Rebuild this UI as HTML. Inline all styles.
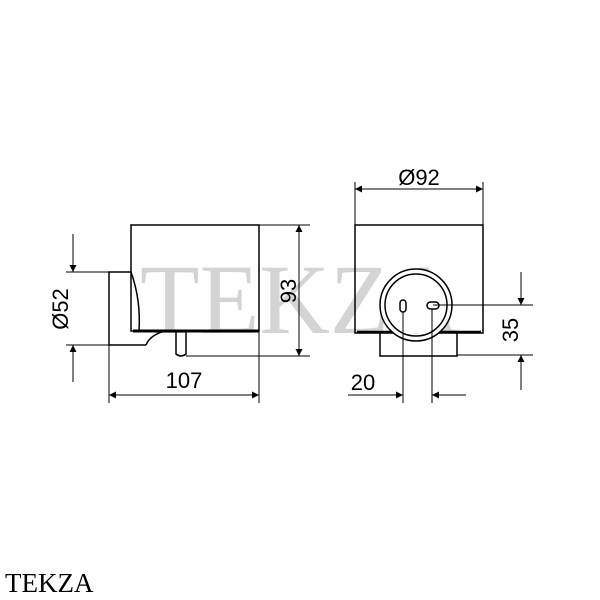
<!DOCTYPE html>
<html><head><style>body{margin:0;background:#fff}svg{display:block}</style></head><body>
<svg width="600" height="600" viewBox="0 0 600 600" xmlns="http://www.w3.org/2000/svg">
<defs>
<marker id="a" viewBox="0 0 10 10" refX="10" refY="5" markerWidth="13" markerHeight="7" orient="auto-start-reverse" markerUnits="userSpaceOnUse"><path d="M0,0L10,5L0,10z" fill="#000"/></marker>
</defs>
<text x="300" y="333" font-family="Liberation Serif,serif" font-size="100" fill="#d4d4d4" text-anchor="middle" textLength="320" lengthAdjust="spacingAndGlyphs">TEKZA</text>
<g fill="none" stroke="#000" stroke-width="1.5">
<rect x="131" y="225" width="128" height="106"/>
<path d="M131,272H109V345H146"/>
<path d="M131,272Q141,300 139,331"/>
<path d="M146,345Q150,335 165,331"/>
<path d="M176,331V354Q181,358 186,354V331"/>
<line x1="133" y1="331" x2="259" y2="331" stroke-width="3"/>
<rect x="355" y="225" width="128" height="108"/>
<line x1="357" y1="332" x2="481" y2="332" stroke-width="2.5"/>
<path d="M380,333V356H457V333"/>
<circle cx="416" cy="305" r="36" fill="#fff"/>
<circle cx="416" cy="305" r="31"/>
<rect x="400" y="300" width="6" height="12" rx="3"/>
<rect x="427" y="302" width="12" height="7" rx="3.5"/>
</g>
<g stroke="#000" stroke-width="1" fill="none">
<line x1="259" y1="225" x2="310" y2="225"/><line x1="186" y1="356" x2="310" y2="356"/>
<line x1="299" y1="225" x2="299" y2="356" marker-start="url(#a)" marker-end="url(#a)"/>
<line x1="66" y1="272" x2="109" y2="272"/><line x1="66" y1="345" x2="109" y2="345"/>
<line x1="73" y1="234" x2="73" y2="272" marker-end="url(#a)"/>
<line x1="73" y1="382" x2="73" y2="345" marker-end="url(#a)"/>
<line x1="109" y1="345" x2="109" y2="403"/><line x1="259" y1="331" x2="259" y2="403"/>
<line x1="109" y1="395" x2="259" y2="395" marker-start="url(#a)" marker-end="url(#a)"/>
<line x1="355" y1="182" x2="355" y2="225"/><line x1="483" y1="182" x2="483" y2="225"/>
<line x1="355" y1="189" x2="483" y2="189" marker-start="url(#a)" marker-end="url(#a)"/>
<line x1="433" y1="305" x2="533" y2="305"/><line x1="457" y1="355" x2="533" y2="355"/>
<line x1="521" y1="272" x2="521" y2="305" marker-end="url(#a)"/>
<line x1="521" y1="390" x2="521" y2="355" marker-end="url(#a)"/>
<line x1="403" y1="312" x2="403" y2="403"/><line x1="432" y1="309" x2="432" y2="403"/>
<line x1="348" y1="395" x2="403" y2="395" marker-end="url(#a)"/>
<line x1="466" y1="395" x2="432" y2="395" marker-end="url(#a)"/>
</g>
<g font-family="Liberation Sans,sans-serif" font-size="22" fill="#000" text-anchor="middle">
<text x="184" y="388">107</text>
<text x="419" y="185">Ø92</text>
<text x="363" y="390">20</text>
<text transform="translate(296,291) rotate(-90)">93</text>
<text transform="translate(68,309) rotate(-90)">Ø52</text>
<text transform="translate(518,330) rotate(-90)">35</text>
</g>
<text x="5" y="592" font-family="Liberation Serif,serif" font-size="27" fill="#000">TEKZA</text>
</svg>
</body></html>
